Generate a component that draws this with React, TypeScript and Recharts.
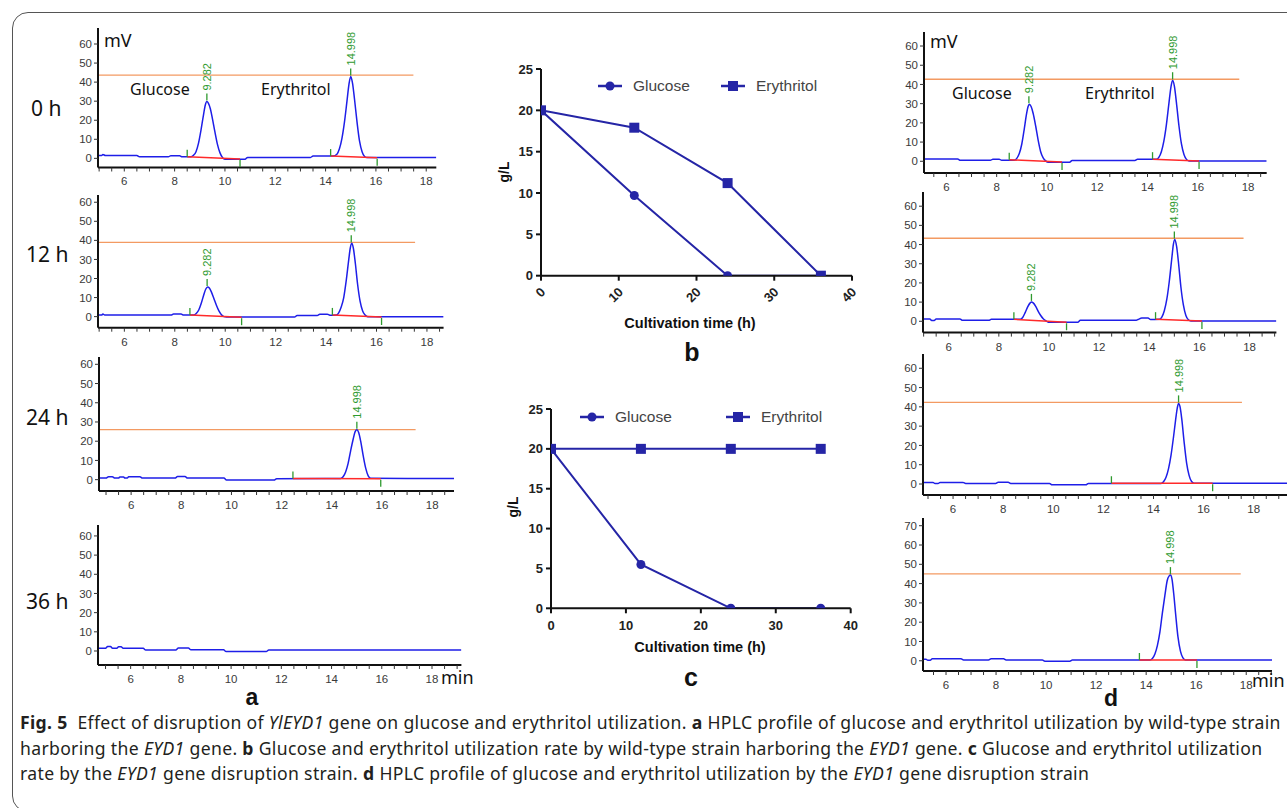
import React from "react";
import { LineChart, Line, XAxis, YAxis, ReferenceLine, ReferenceDot } from "recharts";

type Pt = [number, number];
type Seg = [number, number, number, number];
type Peak = { t: number; h: number; label: string };

// b / c: sugar left in the medium (g/L) against cultivation time (h)
const hours = [0, 12, 24, 36];
const glucoseWT = [20, 9.7, 0, 0];
const erythritolWT = [20, 17.9, 11.2, 0];
const glucoseKO = [20, 5.5, 0, 0];
const erythritolKO = [20, 20, 20, 20];
const concTicks = [0, 5, 10, 15, 20, 25];
const hourTicks = [0, 10, 20, 30, 40];

// HPLC axes
const mvTicks = [0, 10, 20, 30, 40, 50, 60];
const mvTicks70 = [0, 10, 20, 30, 40, 50, 60, 70];
const minTicks = [5, 5.5, 6, 6.5, 7, 7.5, 8, 8.5, 9, 9.5, 10, 10.5, 11, 11.5, 12, 12.5, 13, 13.5, 14, 14.5, 15, 15.5, 16, 16.5, 17, 17.5, 18, 18.5, 19];

// a: wild-type, traces [min, mV]
const trace0h: Pt[] = [
  [4.96, 1.5], [5.1, 1.5], [5.15, 2.0], [5.25, 1.5], [6.5, 1.5], [6.6, 0.8], [7.75, 0.8], [7.85, 1.4], [8.2, 1.4], [8.3, 0.8], [8.65, 0.8],
  [8.75, 1.6], [8.85, 3.5], [8.95, 8], [9.05, 15], [9.15, 23], [9.22, 28], [9.28, 29.8], [9.34, 29], [9.42, 26], [9.5, 21], [9.6, 14], [9.7, 7.5], [9.8, 3], [9.9, 0.5], [10.0, -0.5],
  [10.8, -0.5], [10.9, 0.5], [13.4, 0.5], [13.5, 1.2], [14.3, 1.2],
  [14.45, 2.2], [14.55, 5], [14.65, 10.5], [14.75, 19], [14.85, 30], [14.93, 39], [15.0, 43], [15.07, 39.5], [15.15, 31], [15.25, 19], [15.35, 9], [15.45, 3.5], [15.55, 1], [15.65, 0.4], [18.4, 0.4],
];
const base0h: Seg[] = [[8.5, 0.9, 10.6, -0.4], [14.2, 1.2, 16.05, 0.3]];
const peaks0h: Peak[] = [{ t: 9.282, h: 29.8, label: "9.282" }, { t: 14.998, h: 43, label: "14.998" }];
const level0h: Pt = [43.7, 17.49];

const trace12h: Pt[] = [
  [4.96, 0.8], [5.1, 0.8], [5.15, 1.4], [5.22, 0.8], [7.85, 0.8], [7.95, 1.4], [8.25, 1.4], [8.35, 0.8], [8.75, 0.8],
  [8.85, 1.6], [8.95, 3.5], [9.05, 7], [9.15, 11.5], [9.23, 14.5], [9.3, 15.6], [9.37, 15], [9.45, 13], [9.55, 9.5], [9.65, 6], [9.75, 3], [9.85, 1], [9.95, 0], [10.05, -0.2],
  [12.75, -0.2], [12.85, 0.6], [13.65, 0.6], [13.75, 1.3], [14.05, 1.3], [14.15, 0.7], [14.4, 0.8],
  [14.5, 2], [14.6, 5], [14.7, 10], [14.8, 19], [14.9, 30], [14.96, 36], [15.02, 38.5], [15.08, 36], [15.16, 28], [15.25, 17], [15.35, 8], [15.45, 3], [15.55, 0.8], [15.65, -0.1], [18.66, -0.1],
];
const base12h: Seg[] = [[8.6, 0.8, 10.65, -0.3], [14.25, 0.9, 16.2, -0.2]];
const peaks12h: Peak[] = [{ t: 9.282, h: 15.6, label: "9.282" }, { t: 14.998, h: 38.5, label: "14.998" }];
const level12h: Pt = [39, 17.53];

const trace24h: Pt[] = [
  [4.72, 0.8], [5.0, 0.8], [5.1, 1.5], [5.25, 1.5], [5.35, 0.8], [5.5, 0.8], [5.55, 1.4], [5.7, 1.4], [5.75, 0.8], [5.85, 0.8], [5.9, 1.5], [6.35, 1.5], [6.45, 0.8],
  [7.75, 0.8], [7.85, 1.6], [8.15, 1.6], [8.25, 0.8], [9.7, 0.8], [9.8, -0.2], [11.7, -0.2], [11.8, 0.5], [14.35, 0.6],
  [14.45, 1.5], [14.55, 4], [14.65, 8.5], [14.75, 15], [14.85, 21], [14.93, 25], [15.0, 26], [15.07, 24.5], [15.15, 20], [15.25, 12.5], [15.35, 6], [15.45, 2], [15.55, 0.7], [18.87, 0.6],
];
const base24h: Seg[] = [[12.45, 0.6, 15.95, 0.5]];
const peaks24h: Peak[] = [{ t: 14.998, h: 26, label: "14.998" }];
const level24h: Pt = [26, 17.34];

const trace36h: Pt[] = [
  [4.7, 1.4], [5.0, 1.4], [5.08, 2.3], [5.2, 2.3], [5.28, 1.4], [5.45, 1.4], [5.52, 2.2], [5.62, 2.2], [5.7, 1.4], [6.5, 1.4], [6.6, 0.5],
  [7.8, 0.5], [7.9, 1.5], [8.3, 1.5], [8.4, 0.6], [9.7, 0.6], [9.8, -0.3], [11.4, -0.3], [11.5, 0.5], [19.17, 0.5],
];

// d: EYD1 disruption strain
const traceD1: Pt[] = [
  [5.11, 1.2], [6.45, 1.2], [6.55, 0.5], [7.75, 0.5], [7.85, 1.1], [8.1, 1.1], [8.2, 0.5], [8.7, 0.5],
  [8.8, 1.5], [8.9, 4], [9.0, 9], [9.1, 17], [9.18, 24], [9.25, 28.5], [9.3, 29.7], [9.37, 28.5], [9.45, 25], [9.55, 18.5], [9.65, 11], [9.75, 5], [9.85, 1.8], [9.95, 0.2], [10.05, -0.5],
  [10.9, -0.5], [11.0, 0.4], [13.5, 0.4], [13.6, 1.0], [14.35, 1.0],
  [14.45, 2], [14.55, 5], [14.65, 10.5], [14.75, 19], [14.85, 30], [14.93, 38.5], [15.0, 42.2], [15.07, 39], [15.15, 30.5], [15.25, 18.5], [15.35, 9], [15.45, 3.5], [15.55, 1], [15.65, 0.2], [18.74, 0.2],
];
const baseD1: Seg[] = [[8.5, 0.8, 10.6, -0.4], [14.2, 1.1, 16.05, 0.1]];
const peaksD1: Peak[] = [{ t: 9.282, h: 29.7, label: "9.282" }, { t: 14.998, h: 42.2, label: "14.998" }];
const levelD1: Pt = [42.7, 17.65];

const traceD2: Pt[] = [
  [4.98, 1.2], [5.25, 1.2], [5.32, 0.4], [5.42, 0.4], [5.5, 1.2], [6.45, 1.2], [6.55, 0.5], [7.6, 0.5], [7.7, 1.0], [8.85, 1.0],
  [8.95, 2], [9.05, 4.5], [9.15, 7.5], [9.25, 9.6], [9.3, 10.1], [9.37, 9.6], [9.47, 7.8], [9.57, 5.2], [9.67, 3], [9.77, 1.3], [9.87, 0.3], [9.97, -0.5],
  [11.15, -0.5], [11.25, 0.5], [13.45, 0.5], [13.55, 0.9], [13.7, 1.7], [13.95, 1.7], [14.05, 0.9], [14.4, 1.0],
  [14.5, 2.2], [14.6, 5.5], [14.7, 11.5], [14.8, 21], [14.9, 33], [14.96, 40], [15.02, 42.6], [15.09, 39], [15.17, 30], [15.26, 18], [15.36, 8.5], [15.46, 3], [15.56, 0.8], [15.66, 0.2], [19.07, 0.2],
];
const baseD2: Seg[] = [[8.6, 1.0, 10.7, -0.5], [14.25, 1.1, 16.1, 0.1]];
const peaksD2: Peak[] = [{ t: 9.3, h: 10.1, label: "9.282" }, { t: 15.0, h: 42.6, label: "14.998" }];
const levelD2: Pt = [43.3, 17.76];

const traceD3: Pt[] = [
  [4.8, 0.8], [5.2, 0.8], [5.28, 0.2], [5.4, 0.2], [5.48, 0.8], [6.4, 0.8], [6.5, 0.3], [7.7, 0.3], [7.8, 0.9], [8.2, 0.9], [8.3, 0.3],
  [9.85, 0.3], [9.95, -0.4], [11.3, -0.4], [11.4, 0.3], [14.3, 0.3],
  [14.4, 1.2], [14.5, 3.5], [14.6, 8], [14.7, 15], [14.8, 24.5], [14.88, 33], [14.95, 39.5], [15.0, 41.8], [15.06, 40], [15.13, 33.5], [15.22, 22], [15.32, 11], [15.42, 4.5], [15.52, 1.3], [15.62, 0.4], [19.34, 0.4],
];
const baseD3: Seg[] = [[12.32, 0.4, 16.36, 0.4]];
const peaksD3: Peak[] = [{ t: 15.0, h: 41.8, label: "14.998" }];
const levelD3: Pt = [42.3, 17.53];

const traceD4: Pt[] = [
  [5.08, 0.8], [5.2, 0.8], [5.27, 0.3], [5.37, 0.3], [5.45, 1.0], [6.6, 1.0], [6.7, 0.4], [7.7, 0.4], [7.8, 1.0], [8.3, 1.0], [8.4, 0.4],
  [9.85, 0.4], [9.95, -0.2], [10.95, -0.2], [11.05, 0.4], [14.15, 0.4],
  [14.25, 1.2], [14.35, 3.5], [14.45, 8], [14.55, 15], [14.65, 25], [14.75, 34], [14.84, 41.5], [14.92, 44], [14.97, 44.4], [15.03, 42.5], [15.1, 35], [15.18, 24], [15.27, 12.5], [15.37, 5], [15.47, 1.5], [15.57, 0.4], [19.03, 0.4],
];
const baseD4: Seg[] = [[13.73, 0.4, 16.03, 0.4]];
const peaksD4: Peak[] = [{ t: 14.97, h: 44.4, label: "14.998" }];
const levelD4: Pt = [45, 17.78];

const ARIAL = "'Liberation Sans', Arial, sans-serif";
const SANS = "'Noto Sans', 'Open Sans', sans-serif";
const BLUE = "#1e1ee8";
const RED = "#ff2a2a";
const GREEN = "#2f9a2f";
const ORANGE = "#f39a62";
const NAVY = "#2525a6";
const AXIS = { stroke: "#111", strokeWidth: 2 };

function MinTick(p: any) {
  const v = p.payload.value;
  if (v % 2 !== 0) return <g />;
  return (
    <text x={p.x} y={p.y} dy={12} textAnchor="middle" fontSize={11.5} fill="#3a3a3a" fontFamily={ARIAL}>
      {v}
    </text>
  );
}

const tickUp = (p: any) => <line x1={p.cx} x2={p.cx} y1={p.cy} y2={p.cy - 7} stroke={GREEN} strokeWidth={1.3} />;
const tickDown = (p: any) => <line x1={p.cx} x2={p.cx} y1={p.cy + 1} y2={p.cy + 8} stroke={GREEN} strokeWidth={1.3} />;

function peakMark(label: string) {
  return (p: any) => (
    <g>
      <line x1={p.cx} x2={p.cx} y1={p.cy - 1} y2={p.cy - 8} stroke={GREEN} strokeWidth={1.3} />
      <text
        x={p.cx}
        y={p.cy - 11}
        transform={`rotate(-90 ${p.cx} ${p.cy - 11})`}
        dominantBaseline="central"
        fontSize={11}
        fill={GREEN}
        fontFamily={ARIAL}
      >
        {label}
      </text>
    </g>
  );
}

const YW = 40, MT = 4, MR = 2, XH = 24;

interface ChromProps {
  box: [number, number, number, number]; // plot left, top, right, bottom in px
  xDom: [number, number];
  yDom: [number, number];
  yTicks: number[];
  trace: Pt[];
  bases?: Seg[];
  peaks?: Peak[];
  level?: Pt;
}

function Chrom({ box, xDom, yDom, yTicks, trace, bases = [], peaks = [], level }: ChromProps) {
  const [l, t, r, b] = box;
  const rows = trace.map(([x, v]) => ({ t: x, v }));
  const ticks = minTicks.filter((m) => m >= xDom[0] && m <= xDom[1]);
  return (
    <div style={{ position: "absolute", left: l - YW, top: t - MT }}>
      <LineChart width={r - l + YW + MR} height={b - t + MT + XH} margin={{ top: MT, right: MR, left: 0, bottom: 0 }}>
        <XAxis
          type="number"
          dataKey="t"
          domain={xDom}
          allowDataOverflow
          ticks={ticks}
          interval={0}
          height={XH}
          tickSize={4}
          tickMargin={2}
          tick={<MinTick />}
          axisLine={AXIS}
          tickLine={{ stroke: "#333" }}
        />
        <YAxis
          type="number"
          domain={yDom}
          allowDataOverflow
          ticks={yTicks}
          interval={0}
          width={YW}
          tickSize={4}
          tickMargin={2}
          tick={{ fontSize: 11.5, fill: "#3a3a3a", fontFamily: ARIAL }}
          axisLine={AXIS}
          tickLine={{ stroke: "#333" }}
        />
        {level && (
          <ReferenceLine
            segment={[{ x: xDom[0], y: level[0] }, { x: level[1], y: level[0] }]}
            stroke={ORANGE}
            strokeWidth={1.3}
          />
        )}
        <Line data={rows} dataKey="v" type="monotone" stroke={BLUE} strokeWidth={1.5} dot={false} isAnimationActive={false} />
        {bases.map((s, i) => (
          <Line
            key={`b${i}`}
            data={[{ t: s[0], v: s[1] }, { t: s[2], v: s[3] }]}
            dataKey="v"
            type="linear"
            stroke={RED}
            strokeWidth={1.5}
            dot={false}
            isAnimationActive={false}
          />
        ))}
        {bases.map((s, i) => (
          <ReferenceDot key={`u${i}`} x={s[0]} y={s[1]} r={0} shape={tickUp} />
        ))}
        {bases.map((s, i) => (
          <ReferenceDot key={`d${i}`} x={s[2]} y={s[3]} r={0} shape={tickDown} />
        ))}
        {peaks.map((p, i) => (
          <ReferenceDot key={`p${i}`} x={p.t} y={p.h} r={0} shape={peakMark(p.label)} />
        ))}
      </LineChart>
    </div>
  );
}

function SlantTick(p: any) {
  const ex = p.x + 2;
  const ey = p.y + 7;
  return (
    <text
      x={ex}
      y={ey}
      transform={`rotate(-45 ${ex} ${ey})`}
      textAnchor="end"
      dominantBaseline="central"
      fontSize={13}
      fontWeight={700}
      fill="#222"
      fontFamily={ARIAL}
    >
      {p.payload.value}
    </text>
  );
}

function FlatTick(p: any) {
  return (
    <text x={p.x} y={p.y} dy={15} textAnchor="middle" fontSize={13} fontWeight={700} fill="#222" fontFamily={ARIAL}>
      {p.payload.value}
    </text>
  );
}

const squareDot = (p: any) => (
  <rect key={`sq${p.index}`} x={p.cx - 5} y={p.cy - 5} width={10} height={10} fill={NAVY} />
);

function RateChart({ box, gluc, eryth, slanted }: { box: [number, number, number, number]; gluc: number[]; eryth: number[]; slanted?: boolean }) {
  const [l, t, r, b] = box;
  const W = 50, T = 10, R = 20, H = 45;
  const rows = hours.map((h, i) => ({ h, g: gluc[i], e: eryth[i] }));
  return (
    <div style={{ position: "absolute", left: l - W, top: t - T }}>
      <LineChart width={r - l + W + R} height={b - t + T + H} data={rows} margin={{ top: T, right: R, left: 0, bottom: 0 }}>
        <XAxis
          type="number"
          dataKey="h"
          domain={[0, 40]}
          allowDataOverflow
          ticks={hourTicks}
          interval={0}
          height={H}
          tickSize={5}
          tickMargin={2}
          tick={slanted ? <SlantTick /> : <FlatTick />}
          axisLine={AXIS}
          tickLine={AXIS}
        />
        <YAxis
          type="number"
          domain={[0, 25]}
          allowDataOverflow
          ticks={concTicks}
          interval={0}
          width={W}
          tickSize={5}
          tickMargin={3}
          tick={{ fontSize: 13, fontWeight: 700, fill: "#222", fontFamily: ARIAL }}
          axisLine={AXIS}
          tickLine={AXIS}
        />
        <Line dataKey="g" type="linear" stroke={NAVY} strokeWidth={2} dot={{ r: 4.5, fill: NAVY, stroke: NAVY, strokeWidth: 0 }} isAnimationActive={false} />
        <Line dataKey="e" type="linear" stroke={NAVY} strokeWidth={2} dot={squareDot} isAnimationActive={false} />
      </LineChart>
    </div>
  );
}

function Legend({ x, y, label, square }: { x: number; y: number; label: string; square?: boolean }) {
  return (
    <div style={{ position: "absolute", left: x, top: y - 10, height: 20, display: "flex", alignItems: "center" }}>
      <svg width={24} height={20}>
        <line x1={0} x2={24} y1={10} y2={10} stroke={NAVY} strokeWidth={2.5} />
        {square ? <rect x={7} y={5} width={10} height={10} fill={NAVY} /> : <circle cx={12} cy={10} r={4.5} fill={NAVY} />}
      </svg>
      <span style={{ marginLeft: 11, fontFamily: ARIAL, fontSize: 15.5, color: "#444", whiteSpace: "nowrap" }}>{label}</span>
    </div>
  );
}

function Txt({ x, y, children, size = 16, family = SANS, weight = 400, center = false, rotate = 0, lh = 1 }: any) {
  return (
    <div
      style={{
        position: "absolute",
        left: x,
        top: y,
        transform: `translate(${center ? "-50%" : "0"}, -50%) rotate(${rotate}deg)`,
        fontFamily: family,
        fontSize: size,
        fontWeight: weight,
        lineHeight: lh,
        color: "#111",
        whiteSpace: "nowrap",
      }}
    >
      {children}
    </div>
  );
}

const capLine: React.CSSProperties = {
  position: "absolute",
  left: 20,
  fontFamily: SANS,
  fontSize: 17.6,
  letterSpacing: 0.33,
  lineHeight: "18px",
  color: "#231f20",
  whiteSpace: "nowrap",
};

export default function App() {
  return (
    <div style={{ position: "fixed", left: 0, top: 0, width: 1287, height: 808, overflow: "hidden", background: "#fff" }}>
      <div
        style={{
          position: "absolute",
          left: 12,
          top: 12,
          width: 1400,
          height: 800,
          border: "1.5px solid #555",
          borderRadius: 16,
          boxSizing: "border-box",
        }}
      />

      {/* a */}
      <Chrom box={[97.7, 28, 436, 167.5]} xDom={[4.955, 18.4]} yDom={[-4.8, 68.4]} yTicks={mvTicks} trace={trace0h} bases={base0h} peaks={peaks0h} level={level0h} />
      <Chrom box={[97.7, 195, 443.3, 327.7]} xDom={[4.955, 18.66]} yDom={[-5.8, 63.8]} yTicks={mvTicks} trace={trace12h} bases={base12h} peaks={peaks12h} level={level12h} />
      <Chrom box={[99, 356.7, 454, 490.7]} xDom={[4.72, 18.87]} yDom={[-5.9, 63.8]} yTicks={mvTicks} trace={trace24h} bases={base24h} peaks={peaks24h} level={level24h} />
      <Chrom box={[98.3, 525, 461.7, 665]} xDom={[4.7, 19.17]} yDom={[-7.3, 65.7]} yTicks={mvTicks} trace={trace36h} />

      <Txt x={104} y={40} size={18}>mV</Txt>
      <Txt x={130} y={89}>Glucose</Txt>
      <Txt x={261} y={89}>Erythritol</Txt>
      <Txt x={31} y={107.5} size={21}>0 h</Txt>
      <Txt x={26} y={254} size={21}>12 h</Txt>
      <Txt x={26} y={417} size={21}>24 h</Txt>
      <Txt x={26} y={601} size={21}>36 h</Txt>
      <Txt x={441} y={677} size={18}>min</Txt>
      <Txt x={252} y={698} size={23} weight={700} family={ARIAL} center lh={0.6}>a</Txt>

      {/* b */}
      <RateChart box={[541, 69, 852, 275.7]} gluc={glucoseWT} eryth={erythritolWT} slanted />
      <Legend x={598} y={86} label="Glucose" />
      <Legend x={721} y={86} label="Erythritol" square />
      <Txt x={503.5} y={172} size={14} weight={700} family={ARIAL} center rotate={-90}>g/L</Txt>
      <Txt x={690} y={323.3} size={14.5} weight={700} family={ARIAL} center>Cultivation time (h)</Txt>
      <Txt x={692} y={352} size={25} weight={700} family={ARIAL} center>b</Txt>

      {/* c */}
      <RateChart box={[551, 409, 850.7, 608.3]} gluc={glucoseKO} eryth={erythritolKO} />
      <Legend x={580} y={416.7} label="Glucose" />
      <Legend x={726} y={416.7} label="Erythritol" square />
      <Txt x={513} y={507} size={14} weight={700} family={ARIAL} center rotate={-90}>g/L</Txt>
      <Txt x={700} y={646.7} size={14.5} weight={700} family={ARIAL} center>Cultivation time (h)</Txt>
      <Txt x={691} y={676.7} size={25} weight={700} family={ARIAL} center>c</Txt>

      {/* d */}
      <Chrom box={[924.3, 31.7, 1267, 172.7]} xDom={[5.11, 18.74]} yDom={[-6.1, 67.3]} yTicks={mvTicks} trace={traceD1} bases={baseD1} peaks={peaksD1} level={levelD1} />
      <Chrom box={[923.3, 191.7, 1276.7, 332.3]} xDom={[4.975, 19.07]} yDom={[-5.9, 67.4]} yTicks={mvTicks} trace={traceD2} bases={baseD2} peaks={peaksD2} level={levelD2} />
      <Chrom box={[922.7, 354, 1287, 495]} xDom={[4.8, 19.34]} yDom={[-5.7, 67.4]} yTicks={mvTicks} trace={traceD3} bases={baseD3} peaks={peaksD3} level={levelD3} />
      <Chrom box={[922.7, 518, 1271.7, 671]} xDom={[5.08, 19.03]} yDom={[-5.3, 74]} yTicks={mvTicks70} trace={traceD4} bases={baseD4} peaks={peaksD4} level={levelD4} />

      <Txt x={930} y={40.7} size={18}>mV</Txt>
      <Txt x={952} y={93.3}>Glucose</Txt>
      <Txt x={1085} y={93.3}>Erythritol</Txt>
      <Txt x={1252} y={680} size={18}>min</Txt>
      <Txt x={1111} y={699} size={23} weight={700} family={ARIAL} center lh={0.6}>d</Txt>

      {/* caption */}
      <div style={{ ...capLine, top: 713 }}>
        <b>Fig. 5</b>&nbsp; Effect of disruption of <i>YlEYD1</i> gene on glucose and erythritol utilization. <b>a</b> HPLC profile of glucose and erythritol utilization by wild-type strain
      </div>
      <div style={{ ...capLine, top: 739 }}>
        harboring the <i>EYD1</i> gene. <b>b</b> Glucose and erythritol utilization rate by wild-type strain harboring the <i>EYD1</i> gene. <b>c</b> Glucose and erythritol utilization
      </div>
      <div style={{ ...capLine, top: 764 }}>
        rate by the <i>EYD1</i> gene disruption strain. <b>d</b> HPLC profile of glucose and erythritol utilization by the <i>EYD1</i> gene disruption strain
      </div>
    </div>
  );
}
